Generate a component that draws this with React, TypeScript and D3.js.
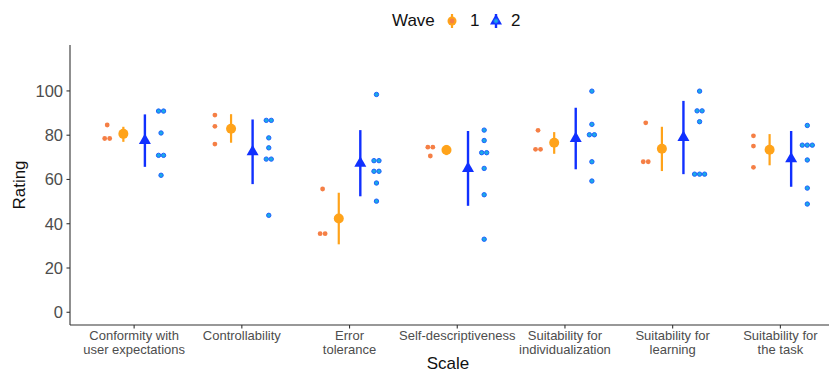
import React from "react";
import * as d3 from "d3";

const categories = [
  "Conformity with\nuser expectations",
  "Controllability",
  "Error\ntolerance",
  "Self-descriptiveness",
  "Suitability for\nindividualization",
  "Suitability for\nlearning",
  "Suitability for\nthe task",
];

const yTicks = [0, 20, 40, 60, 80, 100];

const wave1Raw = [
  [84.6, 78.5, 78.5],
  [89.1, 84.0, 76.0],
  [55.7, 35.5, 35.5],
  [74.6, 74.6, 70.6],
  [82.2, 73.6, 73.6],
  [85.6, 68.0, 68.0],
  [79.7, 75.1, 65.5],
];

const wave2Raw = [
  [90.9, 90.9, 81.0, 70.9, 70.9, 61.9],
  [86.7, 86.7, 78.8, 74.3, 69.2, 69.2, 43.8],
  [98.4, 68.5, 68.5, 63.7, 63.7, 58.4, 50.2],
  [82.3, 77.6, 72.1, 72.1, 65.0, 53.1, 33.0],
  [99.9, 84.9, 80.2, 80.2, 68.0, 59.3],
  [99.9, 91.0, 91.0, 86.1, 62.4, 62.4, 62.4],
  [84.4, 75.5, 75.5, 75.5, 68.8, 56.1, 48.9],
];

const wave1Mean = [80.6, 82.9, 42.4, 73.3, 76.6, 73.9, 73.4];
const wave1Low = [77.0, 76.6, 30.7, 71.0, 71.6, 63.8, 66.4];
const wave1High = [83.8, 89.5, 54.0, 75.6, 81.4, 83.8, 80.5];

const wave2Mean = [77.6, 72.5, 67.3, 65.0, 78.5, 79.0, 69.3];
const wave2Low = [65.7, 57.9, 52.4, 48.1, 64.6, 62.4, 56.7];
const wave2High = [89.4, 87.1, 82.3, 81.9, 92.4, 95.5, 81.9];

const W = 829;
const H = 374;
const FONT = "'Liberation Sans', Arial, Helvetica, sans-serif";

const ORANGE_DOT = "#F57F45";
const ORANGE = "#FFA31A";
const BLUE = "#1030FF";
const CYAN = "#1AAAE6";
const BLUE_STROKE = "#2060FF";
const GRAY = "#4D4D4D";

function stack(vals: number[]) {
  const out: { v: number; k: number }[] = [];
  const groups = d3.group(vals, (v) => v);
  groups.forEach((arr, v) => {
    const n = arr.length;
    arr.forEach((_, i) => out.push({ v, k: i - (n - 1) / 2 }));
  });
  return out;
}

function triPath(cx: number, cy: number, s: number) {
  const h = s * 0.87;
  return `M${cx},${cy - (2 * h) / 3} L${cx + s / 2},${cy + h / 3} L${cx - s / 2},${cy + h / 3} Z`;
}

export default function App() {
  const y = d3.scaleLinear().domain([-5.75, 120.75]).range([325, 45]);
  const x = d3
    .scalePoint<number>()
    .domain(d3.range(categories.length))
    .range([69.5, 845])
    .padding(0.6);
  const step = x.step();
  const dotStep = 5;

  return (
    <div style={{ position: "absolute", left: 0, top: 0 }}>
      <svg width={W} height={H} style={{ display: "block", fontFamily: FONT }}>
        <rect width={W} height={H} fill="white" />
        <line x1={70} x2={W} y1={325} y2={325} stroke="#333" strokeWidth={1.1} />
        <line x1={70} x2={70} y1={45} y2={325} stroke="#333" strokeWidth={1.1} />
        {yTicks.map((t) => (
          <g key={t}>
            <line x1={66.5} x2={70} y1={y(t)} y2={y(t)} stroke="#333" strokeWidth={1.1} />
            <text x={63} y={y(t)} dy="0.36em" textAnchor="end" fontSize={16.5} fill={GRAY}>
              {t}
            </text>
          </g>
        ))}
        {categories.map((c, i) => (
          <g key={c}>
            <line x1={x(i)} x2={x(i)} y1={325} y2={328.5} stroke="#333" strokeWidth={1.1} />
            {c.split("\n").map((ln, j) => (
              <text
                key={j}
                x={x(i)}
                y={339.5 + j * 14.5}
                textAnchor="middle"
                fontSize={13}
                fill={GRAY}
              >
                {ln}
              </text>
            ))}
          </g>
        ))}
        <text x={448} y={369} textAnchor="middle" fontSize={17} fill="#111">
          Scale
        </text>
        <text
          transform={`translate(25,185) rotate(-90)`}
          textAnchor="middle"
          fontSize={17}
          fill="#111"
        >
          Rating
        </text>

        {categories.map((_, i) => {
          const cx = x(i) as number;
          const x1d = cx - 0.25 * step;
          const x1m = cx - 0.1 * step;
          const x2m = cx + 0.1 * step;
          const x2d = cx + 0.25 * step;
          return (
            <g key={"d" + i}>
              {stack(wave1Raw[i]).map((p, j) => (
                <circle key={j} cx={x1d + p.k * dotStep} cy={y(p.v)} r={2.4} fill={ORANGE_DOT} />
              ))}
              <line
                x1={x1m}
                x2={x1m}
                y1={y(wave1Low[i])}
                y2={y(wave1High[i])}
                stroke={ORANGE}
                strokeWidth={2.2}
              />
              <circle cx={x1m} cy={y(wave1Mean[i])} r={5} fill={ORANGE} />
              <line
                x1={x2m}
                x2={x2m}
                y1={y(wave2Low[i])}
                y2={y(wave2High[i])}
                stroke={BLUE}
                strokeWidth={2.4}
              />
              <path d={triPath(x2m, y(wave2Mean[i]), 12)} fill={BLUE} />
              {stack(wave2Raw[i]).map((p, j) => (
                <circle
                  key={j}
                  cx={x2d + p.k * dotStep}
                  cy={y(p.v)}
                  r={2.2}
                  fill={CYAN}
                  stroke={BLUE_STROKE}
                  strokeWidth={1}
                />
              ))}
            </g>
          );
        })}

        <text x={392} y={26} fontSize={17} fill="#111">
          Wave
        </text>
        <line x1={452} x2={452} y1={14} y2={28} stroke={ORANGE} strokeWidth={2.2} />
        <circle cx={452} cy={21} r={4.5} fill={ORANGE} />
        <circle cx={452} cy={21} r={2.4} fill={ORANGE_DOT} />
        <text x={470} y={26} fontSize={17} fill="#111">
          1
        </text>
        <line x1={496} x2={496} y1={14} y2={28} stroke={BLUE} strokeWidth={2.4} />
        <path d={triPath(496, 21, 12)} fill={BLUE} />
        <circle cx={496} cy={21} r={2.2} fill={CYAN} stroke={BLUE_STROKE} strokeWidth={1} />
        <text x={511} y={26} fontSize={17} fill="#111">
          2
        </text>
      </svg>
    </div>
  );
}
